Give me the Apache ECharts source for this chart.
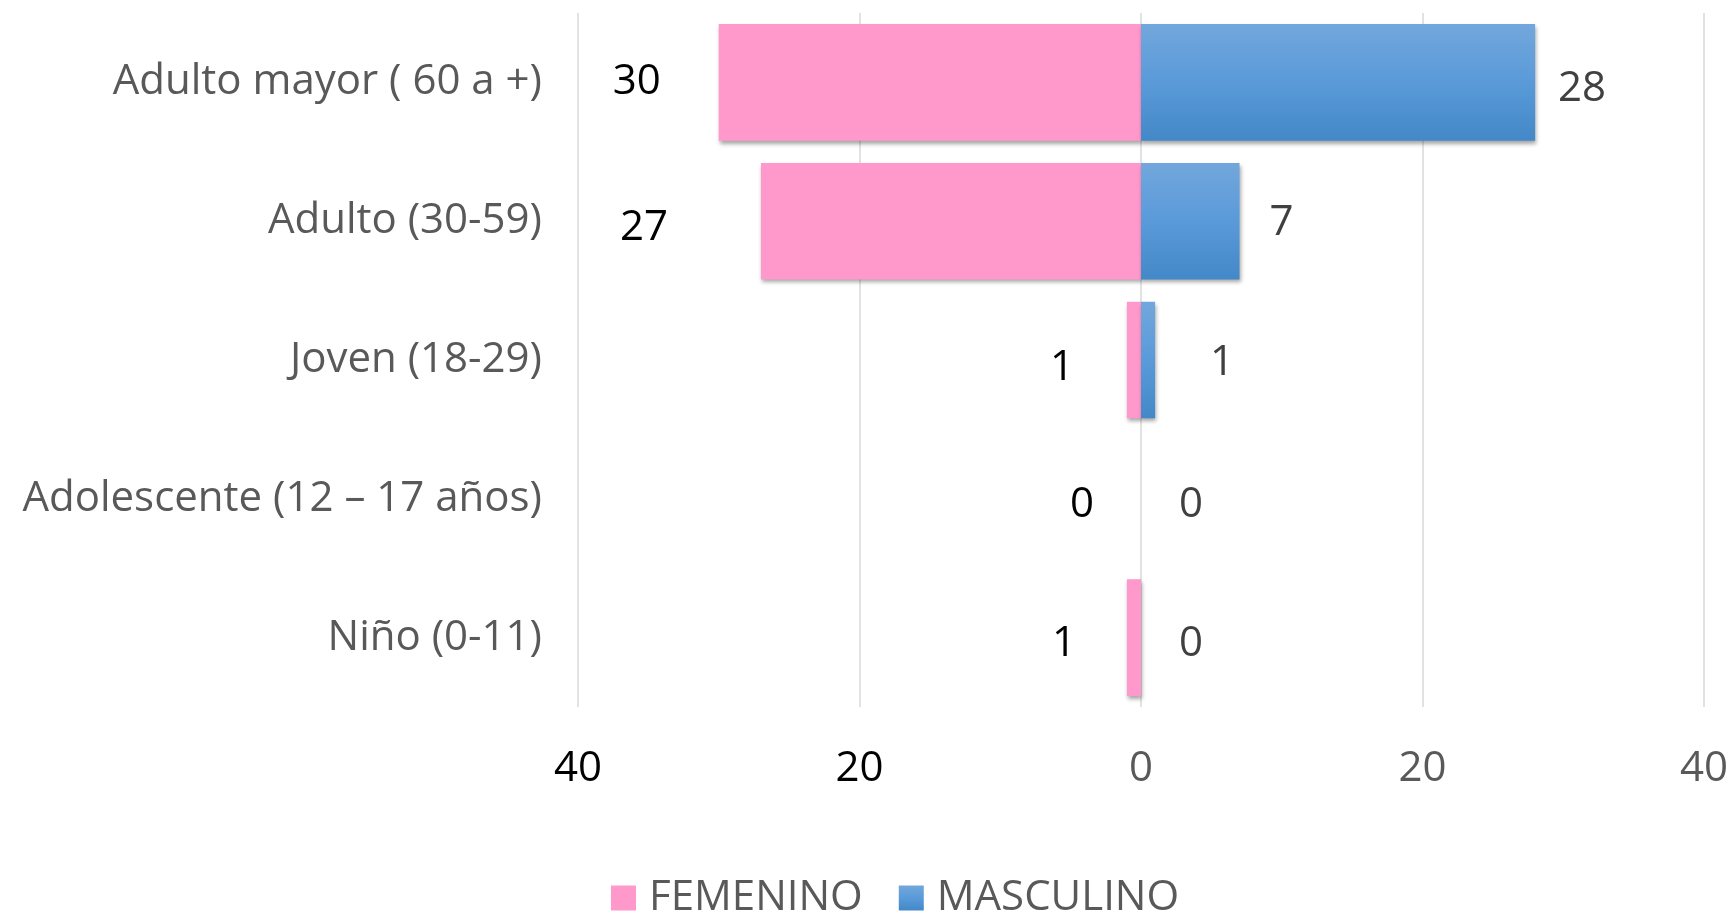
<!DOCTYPE html>
<html>
<head>
<meta charset="utf-8">
<script src="https://cdn.jsdelivr.net/npm/echarts@6/dist/echarts.min.js"></script>
<style>
  html, body { margin: 0; padding: 0; background: #fff; }
  #chart { width: 1734px; height: 913px; }
</style>
</head>
<body>
<div id="chart"></div>
<script>
const categories = ['Adulto mayor ( 60 a +)', 'Adulto (30-59)', 'Joven (18-29)', 'Adolescente (12 – 17 años)', 'Niño (0-11)'];
const femenino = [30, 27, 1, 0, 1];
const masculino = [28, 7, 1, 0, 0];
const seriesNames = ['FEMENINO', 'MASCULINO'];

// hand-placed label nudges, as in the original sheet
const femLabelNudge = [[-3, 0], [-38, 7], [2, 8], [8, 6], [4, 6]];
const mascLabelNudge = [[-7, 7], [0, 2], [25, 3], [8, 6], [8, 6]];

const font = 'Open Sans';
const fs = 42;
const chart = echarts.init(document.getElementById('chart'));

const barShadow = {
  shadowColor: 'rgba(0,0,0,0.35)',
  shadowBlur: 4,
  shadowOffsetX: 1,
  shadowOffsetY: 3
};

chart.setOption({
  animation: false,
  textStyle: { fontFamily: font },
  grid: { left: 578, right: 30, top: 13, bottom: 206 },
  legend: {
    bottom: -11,
    left: 606,
    itemWidth: 25,
    itemHeight: 25,
    itemGap: 36,
    icon: 'rect',
    textStyle: { fontSize: fs, color: '#595959', fontFamily: font, padding: [0, 0, 0, 8] },
    data: seriesNames
  },
  xAxis: {
    type: 'value',
    min: -40,
    max: 40,
    interval: 20,
    axisLine: { show: false },
    axisTick: { show: false },
    splitLine: { lineStyle: { color: '#d9d9d9', width: 1.5 } },
    axisLabel: {
      margin: 41,
      formatter: v => (v < 0 ? '{b|' : '{g|') + Math.abs(v) + '}',
      rich: {
        b: { fontSize: fs, color: '#000', fontFamily: font },
        g: { fontSize: fs, color: '#595959', fontFamily: font }
      }
    }
  },
  yAxis: {
    type: 'category',
    inverse: true,
    data: categories,
    axisLine: { show: false },
    axisTick: { show: false },
    axisLabel: { fontSize: fs, color: '#595959', margin: 36, fontFamily: font }
  },
  series: [
    {
      name: seriesNames[0],
      type: 'bar',
      barCategoryGap: '16%',
      barGap: '-100%',
      data: femenino.map((v, i) => ({ value: -v, label: { offset: femLabelNudge[i] } })),
      itemStyle: Object.assign({ color: '#ff99cc' }, barShadow),
      label: {
        show: true,
        position: 'left',
        distance: 55,
        fontSize: fs,
        color: '#000',
        formatter: p => Math.abs(p.value)
      }
    },
    {
      name: seriesNames[1],
      type: 'bar',
      barCategoryGap: '16%',
      barGap: '-100%',
      data: masculino.map((v, i) => ({ value: v, label: { offset: mascLabelNudge[i] } })),
      itemStyle: Object.assign({
        color: new echarts.graphic.LinearGradient(0, 0, 0, 1, [
          { offset: 0, color: '#72a7dc' },
          { offset: 0.5, color: '#5a9ad9' },
          { offset: 1, color: '#4388c8' }
        ])
      }, barShadow),
      label: {
        show: true,
        position: 'right',
        distance: 30,
        fontSize: fs,
        color: '#404040'
      }
    }
  ]
});
</script>
</body>
</html>
